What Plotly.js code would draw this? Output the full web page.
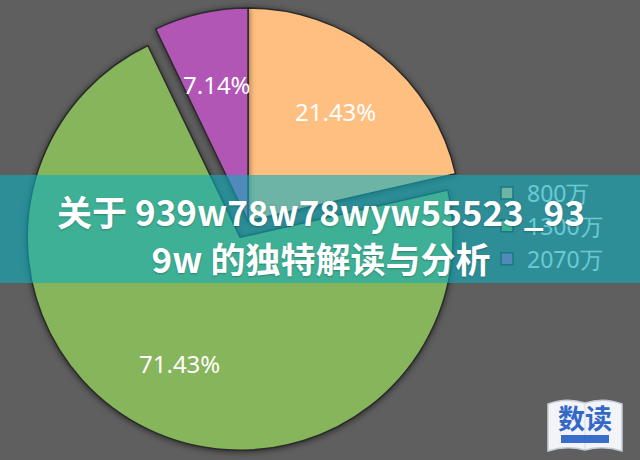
<!DOCTYPE html>
<html>
<head>
<meta charset="utf-8">
<script src="https://cdn.plot.ly/plotly-3.0.1.min.js"></script>
<style>
  html, body { margin:0; padding:0; width:640px; height:460px; overflow:hidden; background:#5f5f5f; }
  #wrap { position:relative; width:640px; height:460px; overflow:hidden; }
  #chart { position:absolute; left:0; top:-10px; width:640px; height:470px; }
  #chart .pielayer .slice path { filter: drop-shadow(0px 1px 3px rgba(0,0,0,0.55)); }
  #band { position:absolute; left:0; top:175px; width:640px; height:108px;
          background:rgba(13,173,190,0.6); pointer-events:none; }
  #headline { position:absolute; left:0; top:175px; width:642px; height:108px;
          font-family:"Noto Sans CJK SC","Noto Sans",sans-serif; font-weight:700;
          font-size:35px; line-height:47px; color:#ffffff; text-align:center;
          padding-top:12px; box-sizing:border-box; text-shadow:0 1px 2px rgba(0,0,0,0.25);
          white-space:nowrap; }
</style>
</head>
<body>
<div id="wrap">
  <div id="chart"></div>
  <div id="band"></div>
  <div id="headline">关于 939w78w78wyw55523_93<br>9w 的独特解读与分析</div>
</div>
<script>
// ---- data ----
const labels = ['800万', '1300万', '2070万'];
const values = [21.43, 71.43, 7.14];
const sliceColors = ['#FFBF80', '#87B55B', '#B156B5'];
const pulls = [0, 0.085, 0];

const LABEL_RADIUS = 0.66;   // label distance from pie centre, as a fraction of radius

// page y (0 at top of 460px window) -> paper fraction of the 470px chart shifted up 10px
function py(y) { return (460 - y) / 470; }
function px(x) { return x / 640; }
function P(x, y) { return px(x).toFixed(4) + ',' + py(y).toFixed(4); }

const labelFont = { family: 'Noto Sans, Open Sans, sans-serif', size: 24, color: '#ffffff' };

const trace = {
  type: 'pie',
  labels: labels,
  values: values,
  sort: false,
  direction: 'clockwise',
  rotation: 0,
  pull: pulls,
  marker: { colors: sliceColors, line: { color: '#2b2b2b', width: 1.5 } },
  textinfo: 'none',
  hoverinfo: 'none',
  domain: { x: [px(17), px(479)], y: [py(452), 1] }
};

const baseAnnotations = [
  { text: '<b>数读</b>', xref: 'paper', yref: 'paper', x: px(585), y: py(417),
    xanchor: 'center', yanchor: 'middle', showarrow: false,
    font: { family: 'Noto Sans CJK SC, sans-serif', size: 27, color: '#3468c8' } }
];

// open-book logo outline
const bookPath = 'M' + P(548, 404) + ' Q' + P(566, 397) + ' ' + P(585, 403) +
  ' Q' + P(604, 397) + ' ' + P(622, 404) + ' L' + P(622, 451) +
  ' Q' + P(604, 445) + ' ' + P(585, 450) + ' Q' + P(566, 445) + ' ' + P(548, 451) + ' Z';

const layout = {
  width: 640, height: 470,
  margin: { l: 0, r: 0, t: 0, b: 0 },
  paper_bgcolor: '#5f5f5f',
  plot_bgcolor: '#5f5f5f',
  showlegend: true,
  legend: {
    x: px(487), xanchor: 'left',
    y: py(226), yanchor: 'middle',
    bgcolor: 'rgba(0,0,0,0)',
    font: { family: 'Noto Sans, Open Sans, sans-serif', size: 23, color: '#f2f2f2' },
    traceorder: 'normal'
  },
  shapes: [
    { type: 'path', xref: 'paper', yref: 'paper', path: bookPath,
      fillcolor: '#f2f4f8', line: { color: '#c3cad6', width: 1.5 } },
    { type: 'line', xref: 'paper', yref: 'paper', x0: px(585), x1: px(585), y0: py(449), y1: py(404),
      line: { color: '#d5dbe4', width: 1 } },
    { type: 'rect', xref: 'paper', yref: 'paper', x0: px(561), x1: px(609), y0: py(443), y1: py(435),
      fillcolor: '#3a6ccc', line: { width: 0 } }
  ],
  annotations: baseAnnotations
};

Plotly.newPlot('chart', [trace], layout, { staticPlot: true, displayModeBar: false }).then(function (gd) {
  const cd = gd.calcdata && gd.calcdata[0];
  if (!cd || !cd[0] || cd[0].cx === undefined) return;
  const cd0 = cd[0];
  const W = gd._fullLayout.width, H = gd._fullLayout.height;
  const total = values.reduce(function (a, b) { return a + b; }, 0);
  const anns = cd.map(function (pt) {
    const i = pt.i;
    const f = (pulls[i] || 0) + LABEL_RADIUS;
    const x = cd0.cx + pt.pxmid[0] * f;
    const y = cd0.cy + pt.pxmid[1] * f;
    return {
      text: (values[i] / total * 100).toFixed(2) + '%',
      xref: 'paper', yref: 'paper', x: x / W, y: 1 - y / H,
      xanchor: 'center', yanchor: 'middle', showarrow: false, font: labelFont
    };
  });
  return Plotly.relayout(gd, { annotations: baseAnnotations.concat(anns) });
});
</script>
</body>
</html>
